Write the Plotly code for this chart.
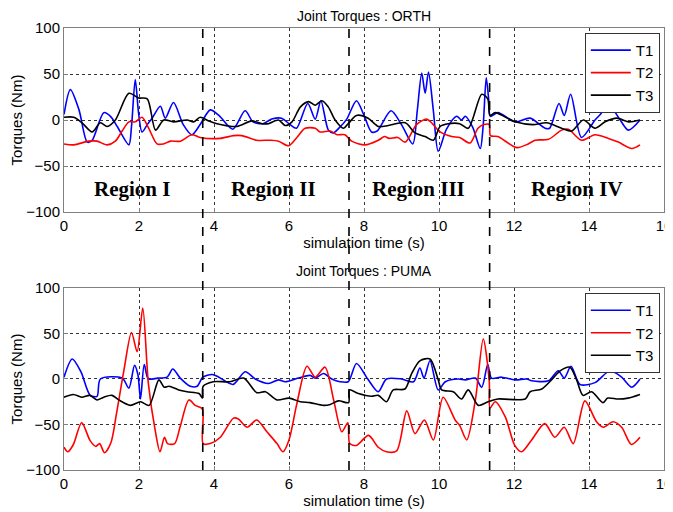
import plotly.graph_objects as go

# ---- data (time in s, torque in Nm) ----
orth_t1_t = [0, 0.17, 0.4, 0.62, 0.75, 1.06, 1.24, 1.42, 1.73, 1.8, 1.9, 1.99, 2.08, 2.22, 2.35, 2.57, 2.7, 2.92,
             3.18, 3.41, 3.63, 3.9, 4.13, 4.5, 4.83, 5.04, 5.3, 5.54, 5.8, 6.03, 6.2, 6.5, 6.7, 6.85, 7.05, 7.18,
             7.35, 7.54, 7.8, 8.0, 8.2, 8.35, 8.72, 9.0, 9.3, 9.42, 9.54, 9.63, 9.72, 9.85, 9.98, 10.2, 10.47,
             10.6, 10.7, 10.9, 11.1, 11.18, 11.26, 11.33, 11.37, 11.57, 12.03, 12.43, 12.83, 12.95, 13.2, 13.34,
             13.51, 13.8, 14.16, 14.3, 14.52, 14.8, 15.05, 15.36]
orth_t1_v = [6, 33, 11, -24, -22, 8, 4, -7, -27, -7, 44, 7, -13, -5, 2, 15, 2, 19,
             -5, -16, -5, 11, 5, -10, 10, -2, -4, 1, 2, -5, -9, 18, 1, 21, -11, -14,
             -8, 1, 21, 5, -13, -12, 10, -5, -26, 10, 51, 29, 52, 10, -34, -10, 4,
             0, 4, -8, -31, -5, 46, 20, 4, 8, -2, 2, -9, -9, 18, 5,
             28, -19, 0, 6, 17, 2, -11, 0]

orth_t2_t = [0, 0.26, 0.66, 0.88, 1.15, 1.37, 1.55, 1.73, 1.9, 2.08, 2.26, 2.48, 2.65, 2.84, 3.1, 3.41, 3.63,
             4.16, 4.52, 4.74, 5.14, 5.5, 5.72, 5.99, 6.21, 6.43, 6.7, 6.83, 7.1, 7.28, 7.49, 7.67, 8.03, 8.38,
             8.55, 8.67, 8.9, 9.1, 9.4, 9.67, 9.8, 10.03, 10.34, 10.55, 10.83, 11.04, 11.2, 11.34, 11.37, 11.57,
             12.07, 12.38, 12.56, 12.92, 13.27, 13.45, 13.8, 14.16, 14.52, 14.78, 15.14, 15.36]
orth_t2_v = [-26, -27, -23, -23, -27, -23, -12, -2, -2, 3, -9, -26, -26, -23, -23, -16, -19,
             -20, -17, -17, -22, -22, -23, -28, -19, -9, -9, -13, -12, -16, -16, -23, -27, -22,
             -18, -20, -19, -24, -5, 1, -3, -13, -18, -19, -25, -9, -5, -5, -17, -18,
             -30, -26, -22, -21, -11, -10, -22, -16, -20, -24, -31, -27]

orth_t3_t = [0, 0.26, 0.48, 0.75, 0.97, 1.15, 1.37, 1.73, 1.99, 2.22, 2.44, 2.66, 2.92, 3.28, 3.46, 3.63, 3.86,
             4.08, 4.61, 5.01, 5.28, 5.45, 5.72, 5.9, 6.08, 6.3, 6.52, 6.7, 6.88, 7.05, 7.23, 7.45, 7.58, 7.8,
             8.11, 8.38, 8.65, 9.1, 9.36, 9.63, 9.85, 10.03, 10.25, 10.55, 10.78, 11.14, 11.3, 11.36, 11.5,
             12.03, 12.5, 12.87, 13.27, 13.54, 13.85, 14.16, 14.43, 14.74, 15.05, 15.36]
orth_t3_v = [3, 3, -3, -13, -3, -7, 0, 29, 24, 23, -11, 0, -2, 0, -2, 3, -1,
             -4, -7, -1, -4, -4, 0, -6, -2, 14, 20, 16, 21, 14, 0, -9, -4, 5,
             2, -7, -6, -3, -14, -18, -22, -7, -4, -4, -9, 28, 23, 5, 8,
             -2, -5, -3, -9, -12, 0, -9, -2, 2, -2, 0]

puma_t1_t = [0, 0.22, 0.45, 0.7, 0.88, 0.97, 1.55, 1.73, 1.88, 1.97, 2.04, 2.14, 2.25, 2.5, 2.75, 2.9, 3.1,
             3.37, 3.55, 3.7, 3.95, 4.13, 4.51, 4.83, 5.1, 5.45, 5.72, 5.9, 6.25, 6.56, 6.7, 6.92, 7.14, 7.36,
             7.58, 7.8, 8.1, 8.38, 8.6, 9.0, 9.32, 9.49, 9.6, 9.76, 9.98, 10.17, 10.52, 10.7, 10.97, 11.14,
             11.3, 11.4, 11.67, 12.03, 12.34, 12.47, 12.92, 13.18, 13.34, 13.52, 13.76, 14.16, 14.56, 14.87,
             15.14, 15.36]
puma_t1_v = [2, 22, 8, -18, -19, 0, 1, -10, 15, 5, -22, 16, 0, 1, 2, 11, 1,
             -8, -8, 2, 5, 2, -6, 8, 0, -5, -1, -3, 1, 4, 1, 6, 0, -3,
             -3, 17, 0, -14, 0, 0, -3, 12, 1, 20, -12, -3, 0, -1, 1, -9,
             16, 1, 2, -1, 0, -2, -2, 9, 1, 14, -6, -4, 9, 2,
             -9, 0]

puma_t2_t = [0, 0.1, 0.25, 0.47, 0.7, 0.85, 0.95, 1.08, 1.25, 1.4, 1.6, 1.8, 1.95, 2.1, 2.25, 2.43, 2.56,
             2.68, 2.76, 2.95, 3.1, 3.33, 3.5, 3.69, 3.71, 3.9, 4.17, 4.52, 4.65, 4.88, 5.14, 5.41, 5.68, 5.84,
             6.0, 6.21, 6.48, 6.7, 6.96, 7.19, 7.41, 7.57, 7.62, 7.8, 8.12, 8.38, 8.6, 8.87, 9.14, 9.36, 9.61,
             9.85, 10.11, 10.43, 10.55, 10.74, 10.97, 11.18, 11.34, 11.36, 11.5, 11.77, 12.02, 12.2, 12.47,
             12.82, 13.09, 13.34, 13.58, 13.89, 14.2, 14.38, 14.64, 14.87, 15.13, 15.36]
puma_t2_v = [-75, -80, -72, -48, -68, -74, -71, -81, -70, -38, 10, 51, 30, 78, -5, -56, -80,
             -64, -71, -71, -52, -23, -29, -33, -71, -71, -64, -43, -44, -53, -45, -58, -71, -80,
             -67, -27, 14, 2, 13, -23, -58, -48, -71, -73, -62, -75, -80, -79, -35, -60, -45,
             -67, -20, -45, -51, -67, -23, 44, -2, -32, -25, -42, -73, -80, -67,
             -49, -64, -53, -71, -24, -47, -53, -47, -53, -72, -64]

puma_t3_t = [0, 0.25, 0.47, 0.69, 0.88, 1.06, 1.28, 1.46, 1.77, 2.04, 2.27, 2.53, 2.67, 2.8, 3.06, 3.28, 3.6,
             3.69, 3.71, 3.98, 4.42, 4.79, 5.14, 5.37, 5.68, 6.0, 6.3, 6.56, 6.92, 7.1, 7.32, 7.59, 7.61, 7.85,
             8.2, 8.38, 8.6, 8.78, 9.09, 9.27, 9.49, 9.76, 9.98, 10.07, 10.38, 10.6, 10.78, 11.05, 11.31, 11.57,
             12.3, 12.43, 12.74, 13.0, 13.23, 13.49, 13.67, 13.84, 14.07, 14.37, 14.5, 14.78, 15.04, 15.36]
puma_t3_v = [-20, -17, -20, -18, -23, -20, -18, -23, -29, -25, -29, -1, -9, -8, -12, -14, -16,
             -21, -8, -3, -3, 1, -15, -14, -23, -21, -25, -26, -29, -28, -24, -26, -12, -16,
             -19, -18, -25, -12, -11, 6, 20, 22, -1, -12, -14, -22, -12, -29, -25, -22,
             -22, -14, -11, -1, 9, 13, -1, -18, -14, -26, -21, -22, -21, -17]

region_bounds = [3.7, 7.6, 11.35]
region_names = ['Region I', 'Region II', 'Region III', 'Region IV']
region_x = [1.81, 5.59, 9.45, 13.67]

FONT = 'Liberation Sans, Arial, sans-serif'
colors = {'T1': '#0000ff', 'T2': '#ff0000', 'T3': '#000000'}

fig = go.Figure()

top = [('T1', orth_t1_t, orth_t1_v), ('T2', orth_t2_t, orth_t2_v), ('T3', orth_t3_t, orth_t3_v)]
bottom = [('T1', puma_t1_t, puma_t1_v), ('T2', puma_t2_t, puma_t2_v), ('T3', puma_t3_t, puma_t3_v)]

for name, t, v in top:
    fig.add_trace(go.Scatter(x=t, y=v, mode='lines', name=name, legend='legend',
                             line=dict(color=colors[name], width=1.6, shape='spline', smoothing=0.8),
                             xaxis='x', yaxis='y'))
for name, t, v in bottom:
    fig.add_trace(go.Scatter(x=t, y=v, mode='lines', name=name, legend='legend2',
                             line=dict(color=colors[name], width=1.6, shape='spline', smoothing=0.8),
                             xaxis='x2', yaxis='y2'))

axis_common = dict(
    range=[0, 16], dtick=2, showline=True, mirror=True, linecolor='#808080', linewidth=1,
    showgrid=True, gridcolor='#333333', griddash='dot', gridwidth=1, zeroline=False,
    ticks='inside', ticklen=4, tickcolor='#808080', tickfont=dict(size=15, color='black'),
    automargin=False,
)
yaxis_common = dict(
    range=[-100, 100], dtick=50, showline=True, mirror=True, linecolor='#808080', linewidth=1,
    showgrid=True, gridcolor='#333333', griddash='dot', gridwidth=1, zeroline=False,
    ticks='inside', ticklen=4, tickcolor='#808080', tickfont=dict(size=15, color='black'),
    automargin=False,
)

xtitle = dict(text='simulation time (s)', font=dict(size=15), standoff=2)
ytitle = dict(text='Torques (Nm)', font=dict(size=15), standoff=6)

# region separators spanning both panels
shapes = []
for b in region_bounds:
    shapes.append(dict(type='line', xref='x', yref='paper', x0=b, x1=b, y0=0, y1=1,
                       line=dict(color='black', width=1.6, dash='dash')))

annotations = [
    dict(text='Joint Torques : ORTH', xref='paper', yref='paper', x=0.5, y=1.027,
         showarrow=False, yanchor='middle', font=dict(size=14)),
    dict(text='Joint Torques : PUMA', xref='paper', yref='paper', x=0.5, y=0.45,
         showarrow=False, yanchor='middle', font=dict(size=14)),
]
for name, x in zip(region_names, region_x):
    annotations.append(dict(text='<b>' + name + '</b>', x=x, y=-75, xref='x', yref='y',
                            showarrow=False, font=dict(family='Liberation Serif, Times New Roman, serif',
                                                        size=21, color='black')))

legend_common = dict(xanchor='right', yanchor='top', bgcolor='white', bordercolor='#333333',
                     borderwidth=1, font=dict(size=15), itemwidth=40)

# the page body adds an 8px margin, so the figure is 8px smaller than the window
fig.update_layout(
    width=665, height=504,
    margin=dict(l=56, r=9, t=20, b=42),
    paper_bgcolor='white', plot_bgcolor='white',
    font=dict(family=FONT, color='black', size=15),
    xaxis=dict(domain=[0, 1], anchor='y', title=xtitle, **axis_common),
    yaxis=dict(domain=[0.5837, 1], anchor='x', title=ytitle, **yaxis_common),
    xaxis2=dict(domain=[0, 1], anchor='y2', title=xtitle, **axis_common),
    yaxis2=dict(domain=[0, 0.4118], anchor='x2', title=ytitle, **yaxis_common),
    legend=dict(x=0.993, y=0.989, **legend_common),
    legend2=dict(x=0.993, y=0.4005, **legend_common),
    shapes=shapes,
    annotations=annotations,
    showlegend=True,
)

fig.write_html("out.html")
